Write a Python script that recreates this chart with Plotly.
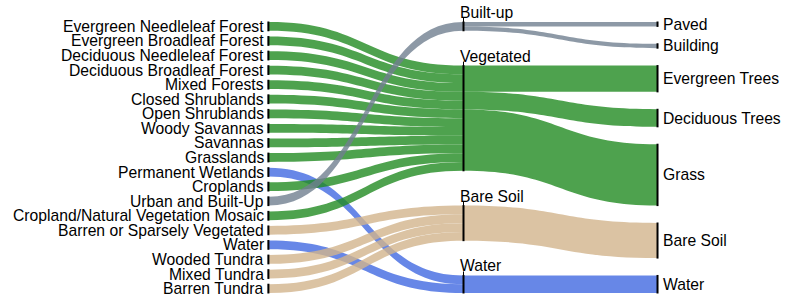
import plotly.graph_objects as go

# ---------------- data ----------------
left_labels = [
    "Evergreen Needleleaf Forest", "Evergreen Broadleaf Forest",
    "Deciduous Needleleaf Forest", "Deciduous Broadleaf Forest",
    "Mixed Forests", "Closed Shrublands", "Open Shrublands",
    "Woody Savannas", "Savannas", "Grasslands", "Permanent Wetlands",
    "Croplands", "Urban and Built-Up", "Cropland/Natural Vegetation Mosaic",
    "Barren or Sparsely Vegetated", "Water", "Wooded Tundra",
    "Mixed Tundra", "Barren Tundra",
]
left_to_mid = [
    "Vegetated", "Vegetated", "Vegetated", "Vegetated", "Vegetated",
    "Vegetated", "Vegetated", "Vegetated", "Vegetated", "Vegetated",
    "Water", "Vegetated", "Built-up", "Vegetated", "Bare Soil",
    "Water", "Bare Soil", "Bare Soil", "Bare Soil",
]
left_values = [1, 1, 1, 1, 1, 1, 1, 1, 1, 1, 1, 1, 1, 1, 1, 1, 1, 1, 1]

mid_labels = ["Built-up", "Vegetated", "Bare Soil", "Water"]

right_labels = ["Paved", "Building", "Evergreen Trees", "Deciduous Trees",
                "Grass", "Bare Soil", "Water"]
right_from_mid = ["Built-up", "Built-up", "Vegetated", "Vegetated",
                  "Vegetated", "Bare Soil", "Water"]
right_values = [0.5, 0.5, 3, 2, 7, 4, 2]

# ---------------- styles ----------------
mid_colors = {
    "Built-up": "rgba(112,128,144,0.8)",
    "Vegetated": "rgba(34,139,34,0.8)",
    "Bare Soil": "rgba(210,180,140,0.8)",
    "Water": "rgba(65,105,225,0.8)",
}
FONT = "Arial, 'Liberation Sans', Helvetica, sans-serif"
FSIZE = 15.7
W_PX, H_PX = 789, 303
MARGIN = dict(l=268, r=130, t=22, b=10, autoexpand=False)
PAD = 5.8
COL_X = [0.001, 0.5, 0.9962]

# ---------------- build graph ----------------
nL, nM, nR = len(left_labels), len(mid_labels), len(right_labels)
labels = left_labels + mid_labels + right_labels
mid_index = {m: nL + i for i, m in enumerate(mid_labels)}

src, tgt, val, lcol = [], [], [], []
for i, (m, v) in enumerate(zip(left_to_mid, left_values)):
    src.append(i); tgt.append(mid_index[m]); val.append(v); lcol.append(mid_colors[m])
for j, (m, v) in enumerate(zip(right_from_mid, right_values)):
    src.append(mid_index[m]); tgt.append(nL + nM + j); val.append(v); lcol.append(mid_colors[m])

node_in = [0.0] * len(labels)
node_out = [0.0] * len(labels)
for s, t, v in zip(src, tgt, val):
    node_out[s] += v
    node_in[t] += v
node_val = [max(a, b) for a, b in zip(node_in, node_out)]
cols = [node_val[:nL], node_val[nL:nL + nM], node_val[nL + nM:]]

plot_w = W_PX - MARGIN["l"] - MARGIN["r"]
plot_h = H_PX - MARGIN["t"] - MARGIN["b"]
ky = min((plot_h - (len(c) - 1) * PAD) / sum(c) for c in cols)

node_x, node_y, tops, centers = [], [], [], []
for ci, c in enumerate(cols):
    gap = (plot_h - ky * sum(c)) / (len(c) - 1)
    top = 0.0
    for v in c:
        h = ky * v
        tops.append(top)
        centers.append(top + h / 2)
        node_x.append(COL_X[ci])
        node_y.append(max(top + h / 2, 0.5) / plot_h)
        top += h + gap

node_colors = ["#8a8a8a"] * nL + ["#000000"] * nM + ["#5f5f5f"] * nR
node_lw = [0.6] * nL + [0] * nM + [0.4] * nR
node_lc = ["#8a8a8a"] * nL + ["#000000"] * nM + ["#5f5f5f"] * nR

fig = go.Figure(go.Sankey(
    arrangement="fixed",
    domain=dict(x=[0, 1], y=[0, 1]),
    node=dict(
        label=[""] * len(labels),
        customdata=labels,
        hovertemplate="%{customdata}<extra></extra>",
        x=node_x, y=node_y,
        pad=PAD, thickness=1,
        color=node_colors,
        line=dict(color=node_lc, width=node_lw),
    ),
    link=dict(source=src, target=tgt, value=val, color=lcol),
    textfont=dict(family=FONT, size=FSIZE, color="black"),
))

annotations = []
shapes = []
for i in range(len(labels)):
    ypaper_c = 1 - centers[i] / plot_h
    if i < nL:
        annotations.append(dict(x=node_x[i], y=ypaper_c, text=labels[i],
                                xanchor="right", yanchor="middle", xshift=-4.4))
    elif i < nL + nM:
        ytop = 1 - tops[i] / plot_h
        annotations.append(dict(x=node_x[i], y=ytop, text=labels[i],
                                xanchor="left", yanchor="bottom", xshift=-3.5, yshift=1))
        # small tick of the middle node rising up to its label
        shapes.append(dict(type="line", xref="paper", yref="paper",
                           x0=node_x[i] + 0.0 / plot_w, x1=node_x[i],
                           y0=ytop, y1=ytop + 4 / plot_h,
                           line=dict(color="black", width=1)))
    else:
        annotations.append(dict(x=node_x[i], y=ypaper_c, text=labels[i],
                                xanchor="left", yanchor="middle", xshift=5.5))
for a in annotations:
    a.update(xref="paper", yref="paper", showarrow=False, borderpad=0, borderwidth=0,
             font=dict(family=FONT, size=FSIZE, color="black"))

fig.update_layout(
    width=W_PX, height=H_PX, margin=MARGIN,
    paper_bgcolor="white", plot_bgcolor="white",
    annotations=annotations,
    shapes=shapes,
    font=dict(family=FONT, size=FSIZE, color="black"),
)
fig.write_html("out.html", config={"displayModeBar": False},
               post_script="document.body.style.margin='0';")
